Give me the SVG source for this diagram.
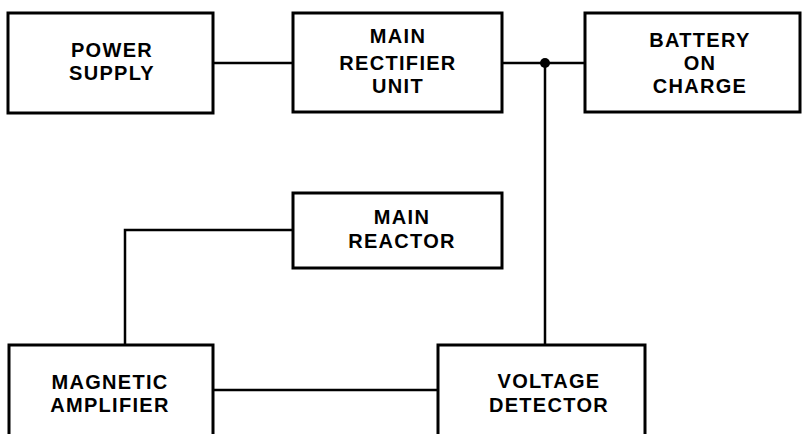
<svg xmlns="http://www.w3.org/2000/svg" width="802" height="434" viewBox="0 0 802 434">
<style>
.box{fill:#fff;stroke:#000;stroke-width:3}
.t{font-family:"Liberation Sans",Arial,sans-serif;font-weight:bold;font-size:20px;text-anchor:middle;fill:#000;letter-spacing:1.3px}
.c{fill:none;stroke:#000;stroke-width:2.5}
</style>
<rect width="802" height="434" fill="#fff"/>
<g id="connectors">
<line class="c" x1="213" y1="63" x2="293" y2="63"/>
<line class="c" x1="502" y1="63" x2="585" y2="63"/>
<line class="c" x1="545" y1="63" x2="545" y2="345"/>
<polyline class="c" points="293,230 125,230 125,345"/>
<line class="c" x1="213" y1="390" x2="438" y2="390"/>
<circle cx="545" cy="63" r="5" fill="#000"/>
</g>
<g id="power-supply">
<rect class="box" x="8" y="13" width="205" height="100"/>
<text class="t" x="112" y="57">POWER</text>
<text class="t" x="112" y="80">SUPPLY</text>
</g>
<g id="main-rectifier-unit">
<rect class="box" x="293" y="13" width="209" height="99"/>
<text class="t" x="398" y="43">MAIN</text>
<text class="t" x="398" y="70">RECTIFIER</text>
<text class="t" x="398" y="93">UNIT</text>
</g>
<g id="battery-on-charge">
<rect class="box" x="585" y="13" width="215" height="99"/>
<text class="t" x="700" y="47">BATTERY</text>
<text class="t" x="700" y="70">ON</text>
<text class="t" x="700" y="93">CHARGE</text>
</g>
<g id="main-reactor">
<rect class="box" x="293" y="193" width="209" height="75"/>
<text class="t" x="402" y="224">MAIN</text>
<text class="t" x="402" y="248">REACTOR</text>
</g>
<g id="magnetic-amplifier">
<rect class="box" x="9" y="345" width="204" height="100"/>
<text class="t" x="110" y="389">MAGNETIC</text>
<text class="t" x="110" y="412">AMPLIFIER</text>
</g>
<g id="voltage-detector">
<rect class="box" x="438" y="345" width="207" height="100"/>
<text class="t" x="549" y="388">VOLTAGE</text>
<text class="t" x="549" y="412">DETECTOR</text>
</g>
</svg>
